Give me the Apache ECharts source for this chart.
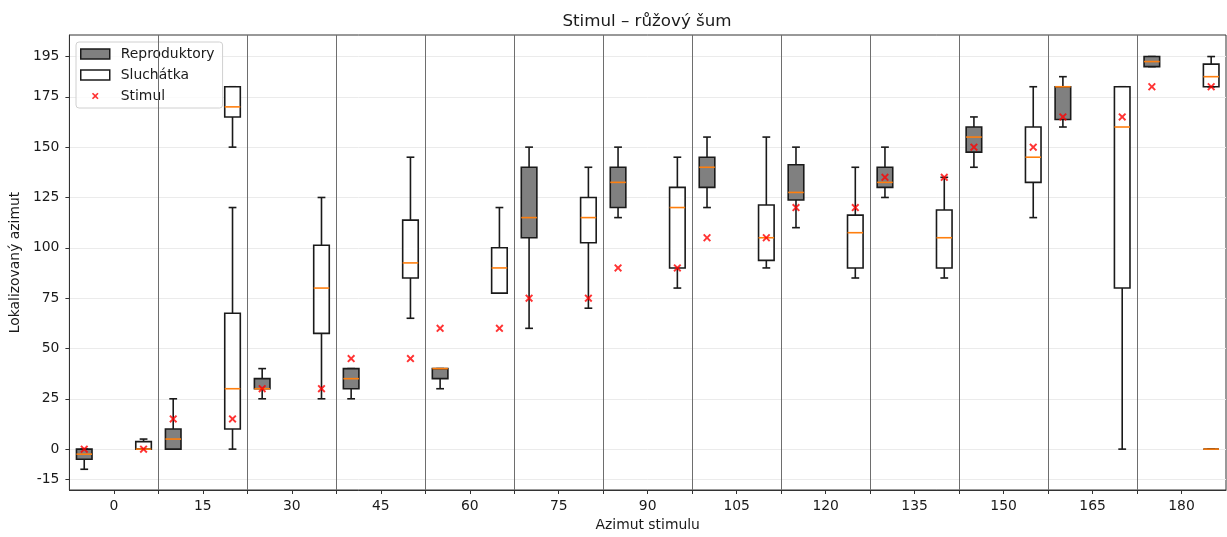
<!DOCTYPE html>
<html lang="cs">
<head>
<meta charset="UTF-8">
<title>Stimul – růžový šum</title>
<script src="https://cdn.jsdelivr.net/npm/echarts@6.0.0/dist/echarts.min.js"></script>
<style>
  html, body { margin: 0; padding: 0; background: #fff; }
  #chart { width: 1227px; height: 537px; }
</style>
</head>
<body>
<div id="chart"></div>
<script>
// azimut stimulu (popisky osy x)
const categories = ['0', '15', '30', '45', '60', '75', '90', '105', '120', '135', '150', '165', '180'];
const yTicks = [-15, 0, 25, 50, 75, 100, 125, 150, 175, 195];

// skutečný azimut stimulu
const stimul = [0, 15, 30, 45, 60, 75, 90, 105, 120, 135, 150, 165, 180];

// krabicové grafy: [min, Q1, medián, Q3, max]
const reproduktory = [
  [-10, -5, -2.5, 0, 0],
  [0, 0, 5, 10, 25],
  [25, 30, 30, 35, 40],
  [25, 30, 35, 40, 40],
  [30, 35, 40, 40, 40],
  [60, 105, 115, 140, 150],
  [115, 120, 132.5, 140, 150],
  [120, 130, 140, 145, 155],
  [110, 123.75, 127.5, 141.25, 150],
  [125, 130, 132.5, 140, 150],
  [140, 147.5, 155, 160, 165],
  [160, 163.75, 180, 180, 185],
  [190, 190, 192.5, 195, 195]
];
const sluchatka = [
  [0, 0, 0, 3.75, 5],
  [0, 10, 30, 67.5, 120],
  [25, 57.5, 80, 101.25, 125],
  [65, 85, 92.5, 113.75, 145],
  [77.5, 77.5, 90, 100, 120],
  [70, 102.5, 115, 125, 140],
  [80, 90, 120, 130, 145],
  [90, 93.75, 105, 121.25, 155],
  [85, 90, 107.5, 116.25, 140],
  [85, 90, 105, 118.75, 135],
  [115, 132.5, 145, 160, 180],
  [0, 80, 160, 180, 180],
  [180, 180, 185, 191.25, 195]
];
// druhý shluk odpovědí (přední/zadní záměna) u sluchátek
const sluchatkaExtraIdx = [1, 12];
const sluchatkaExtra = [
  [150, 165, 170, 180, 180],
  [0, 0, 0, 0, 0]
];

const FONT = 'DejaVu Sans';
const FS = 13.9;
const EDGE = '#1a1a1a';
const MEDIAN = '#ff7f0e';
const OFFSET = 1 / 3;
const BOX_W = 0.175;
const X_SHAPE = 'M0,1.7 L1.7,0 L5,3.3 L8.3,0 L10,1.7 L6.7,5 L10,8.3 L8.3,10 L5,6.7 L1.7,10 L0,8.3 L3.3,5 Z';
const X_PATH = 'path://' + X_SHAPE;
// v legendě menší křížek (neviditelné body rozšíří obrys)
const X_LEGEND = 'path://M-2.5,-2.5 L-2.5,-2.5 Z M12.5,12.5 L12.5,12.5 Z ' + X_SHAPE;

const repData = reproduktory.map((b, i) => [i - OFFSET].concat(b));
const sluData = sluchatka.map((b, i) => [i + OFFSET].concat(b))
  .concat(sluchatkaExtra.map((b, k) => [sluchatkaExtraIdx[k] + OFFSET].concat(b)));
const stimulData = [];
stimul.forEach((s, i) => {
  stimulData.push([i - OFFSET, s]);
  stimulData.push([i + OFFSET, s]);
});
const separators = categories.slice(1).map((_, i) => i + 0.5);

function makeRender(fill) {
  return function (params, api) {
    const x = api.value(0);
    const cx = api.coord([x, 0])[0];
    const w = api.size([BOX_W, 0])[0];
    const y = k => api.coord([x, api.value(k)])[1];
    const yMin = y(1), yQ1 = y(2), yMed = y(3), yQ3 = y(4), yMax = y(5);
    const line = (x1, y1, x2, y2, color) => ({
      type: 'line',
      shape: { x1: x1, y1: y1, x2: x2, y2: y2 },
      style: { stroke: color || EDGE, lineWidth: 1.6 }
    });
    return {
      type: 'group',
      children: [
        line(cx, yMin, cx, yQ1),
        line(cx, yQ3, cx, yMax),
        line(cx - w / 4, yMin, cx + w / 4, yMin),
        line(cx - w / 4, yMax, cx + w / 4, yMax),
        {
          type: 'rect',
          shape: { x: cx - w / 2, y: yQ3, width: w, height: yQ1 - yQ3 },
          style: { fill: fill, stroke: EDGE, lineWidth: 1.6 }
        },
        line(cx - w / 2, yMed, cx + w / 2, yMed, MEDIAN)
      ]
    };
  };
}

const chart = echarts.init(document.getElementById('chart'));

chart.setOption({
  animation: false,
  textStyle: { fontFamily: FONT },
  title: {
    text: 'Stimul – růžový šum',
    left: 647,
    top: 13,
    padding: 0,
    textAlign: 'center',
    textStyle: { fontFamily: FONT, fontSize: 16.7, fontWeight: 'normal', color: '#1a1a1a' }
  },
  legend: {
    orient: 'vertical',
    left: 76,
    top: 42,
    padding: [5, 8, 5, 4],
    itemWidth: 29,
    itemHeight: 10,
    itemGap: 7,
    backgroundColor: 'rgba(255,255,255,0.8)',
    borderColor: '#d0d0d0',
    borderWidth: 1,
    borderRadius: 3,
    textStyle: { fontFamily: FONT, fontSize: FS, color: '#1a1a1a', padding: [0, 0, 0, 6] },
    data: [
      { name: 'Reproduktory', icon: 'rect', itemStyle: { color: '#808080', borderColor: EDGE, borderWidth: 1.5 } },
      { name: 'Sluchátka', icon: 'rect', itemStyle: { color: '#ffffff', borderColor: EDGE, borderWidth: 1.5 } },
      { name: 'Stimul', icon: X_LEGEND, itemStyle: { color: '#ff0000', borderWidth: 0 } }
    ]
  },
  grid: {
    left: 68,
    right: 1,
    top: 35,
    bottom: 41,
    show: true,
    borderColor: '#333',
    borderWidth: 1,
    backgroundColor: 'transparent'
  },
  xAxis: {
    type: 'value',
    min: -0.5,
    max: 12.5,
    name: 'Azimut stimulu',
    nameLocation: 'middle',
    nameGap: 28,
    nameTextStyle: { fontFamily: FONT, fontSize: FS, color: '#1a1a1a', verticalAlign: 'top' },
    axisLine: { show: true, onZero: false, lineStyle: { color: '#333', width: 1 } },
    axisTick: {
      show: true,
      length: 4,
      customValues: categories.map((_, i) => i).concat(separators),
      lineStyle: { color: '#333' }
    },
    axisLabel: {
      customValues: categories.map((_, i) => i),
      formatter: v => categories[Math.round(v)],
      margin: 9,
      fontFamily: FONT,
      fontSize: FS,
      color: '#1a1a1a'
    },
    splitLine: { show: false }
  },
  yAxis: {
    type: 'value',
    min: -20.3,
    max: 205.7,
    name: 'Lokalizovaný azimut',
    nameLocation: 'middle',
    nameRotate: 90,
    nameGap: 46,
    nameTextStyle: { fontFamily: FONT, fontSize: FS, color: '#1a1a1a' },
    axisLine: { show: true, onZero: false, lineStyle: { color: '#333', width: 1 } },
    axisTick: { show: true, length: 4, customValues: yTicks, lineStyle: { color: '#333' } },
    axisLabel: { customValues: yTicks, margin: 10, fontFamily: FONT, fontSize: FS, color: '#1a1a1a' },
    splitLine: { show: true, lineStyle: { color: '#ebebeb', width: 1 } }
  },
  series: [
    {
      name: 'Reproduktory',
      type: 'custom',
      renderItem: makeRender('#808080'),
      encode: { x: 0, y: [1, 2, 3, 4, 5] },
      itemStyle: { color: '#808080' },
      data: repData,
      z: 3,
      markLine: {
        silent: true,
        symbol: 'none',
        label: { show: false },
        lineStyle: { color: '#6e6e6e', width: 1, type: 'solid' },
        data: separators.map(s => ({ xAxis: s }))
      }
    },
    {
      name: 'Sluchátka',
      type: 'custom',
      renderItem: makeRender('#ffffff'),
      encode: { x: 0, y: [1, 2, 3, 4, 5] },
      itemStyle: { color: '#ffffff' },
      data: sluData,
      z: 3
    },
    {
      name: 'Stimul',
      type: 'scatter',
      symbol: X_PATH,
      symbolSize: 8,
      itemStyle: { color: '#ff0000' },
      data: stimulData,
      z: 5
    }
  ]
});

window.addEventListener('resize', () => chart.resize());
</script>
</body>
</html>
